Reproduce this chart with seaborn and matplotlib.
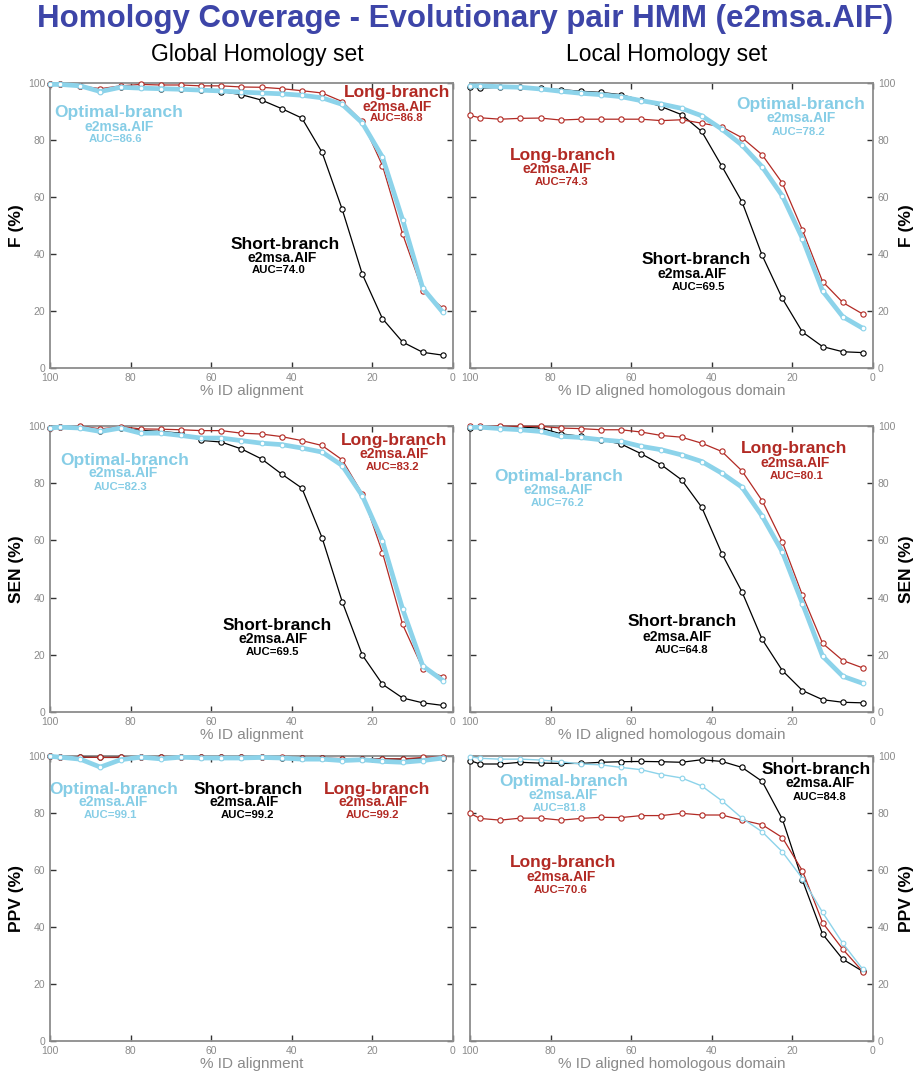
import numpy as np
import pandas as pd
import matplotlib
matplotlib.use("Agg")
import matplotlib.pyplot as plt
import seaborn as sns

# x positions (% identity bins)
pct_id = [100, 97.5, 92.5, 87.5, 82.5, 77.5, 72.5, 67.5, 62.5, 57.5, 52.5,
          47.5, 42.5, 37.5, 32.5, 27.5, 22.5, 17.5, 12.5, 7.5, 2.5]

# Global homology set - F
glob_f_short = [99.5, 99.5, 99.0, 97.2, 98.5, 98.5, 98.0, 98.0, 97.4, 97.0, 95.9,
                94.0, 91.0, 87.7, 75.7, 55.7, 32.9, 17.3, 9.1, 5.5, 4.5]
glob_f_long = [99.5, 99.5, 99.0, 98.0, 99.0, 99.5, 99.3, 99.3, 99.0, 99.0, 98.6,
               98.5, 98.0, 97.3, 96.5, 93.5, 86.5, 71.0, 47.0, 27.0, 21.0]
glob_f_opt = [99.5, 99.5, 99.0, 97.0, 98.5, 98.2, 98.0, 97.8, 97.5, 97.2, 96.8,
              96.5, 96.2, 95.7, 94.8, 92.5, 86.0, 74.0, 52.0, 28.0, 19.5]

# Local homology set - F
loc_f_short = [98.7, 98.2, 98.5, 98.7, 98.1, 97.7, 97.1, 96.7, 95.9, 94.0, 91.7,
               88.9, 83.0, 70.8, 58.3, 39.5, 24.4, 12.6, 7.5, 5.7, 5.4]
loc_f_long = [88.6, 87.8, 87.3, 87.6, 87.7, 87.0, 87.3, 87.3, 87.3, 87.3, 86.8,
              87.1, 85.9, 84.6, 80.8, 74.8, 64.9, 48.4, 30.3, 23.0, 18.9]
loc_f_opt = [99.0, 99.0, 98.7, 98.5, 97.9, 97.1, 96.4, 95.9, 95.2, 93.8, 92.6,
             91.1, 88.5, 83.8, 78.2, 70.6, 60.4, 45.4, 27.0, 18.0, 13.9]

# Global homology set - SEN
glob_sen_short = [99.3, 99.6, 99.6, 98.1, 99.3, 98.5, 98.1, 97.5, 95.0, 94.4, 92.0,
                  88.5, 83.2, 78.3, 61.0, 38.6, 19.9, 9.7, 4.9, 3.2, 2.3]
glob_sen_long = [99.3, 99.6, 100.0, 99.0, 99.8, 99.0, 98.9, 98.7, 98.4, 98.4, 97.5,
                 97.2, 96.3, 94.9, 93.2, 88.2, 76.3, 55.7, 30.6, 15.2, 12.3]
glob_sen_opt = [99.3, 99.6, 99.3, 98.1, 99.3, 97.5, 97.5, 96.7, 95.8, 95.8, 94.9,
                94.0, 93.5, 92.3, 90.9, 86.2, 75.6, 59.8, 36.0, 16.1, 11.0]

# Local homology set - SEN
loc_sen_short = [99.3, 99.6, 99.6, 99.6, 99.3, 97.3, 96.4, 95.2, 93.7, 90.3, 86.4,
                 81.2, 71.6, 55.4, 42.0, 25.4, 14.5, 7.5, 4.3, 3.4, 3.2]
loc_sen_long = [99.9, 99.9, 100.0, 99.9, 99.9, 99.3, 99.1, 98.7, 98.7, 97.9, 96.7,
                96.1, 94.0, 91.1, 84.3, 73.9, 59.5, 40.8, 24.0, 18.0, 15.4]
loc_sen_opt = [99.5, 99.6, 99.1, 98.7, 98.1, 96.4, 96.0, 95.2, 94.6, 92.9, 91.7,
               89.9, 87.6, 83.5, 78.6, 68.5, 56.0, 37.9, 19.5, 12.5, 10.0]

# Global homology set - PPV
glob_ppv_short = [99.9, 99.8, 99.6, 99.5, 99.5, 99.6, 99.5, 99.6, 99.5, 99.5, 99.5,
                  99.5, 99.4, 99.3, 99.2, 99.0, 99.0, 99.0, 98.9, 99.1, 99.4]
glob_ppv_long = [99.9, 99.8, 99.6, 99.5, 99.6, 99.7, 99.6, 99.7, 99.6, 99.6, 99.6,
                 99.5, 99.5, 99.4, 99.3, 99.1, 99.1, 99.0, 99.0, 99.5, 99.8]
glob_ppv_opt = [99.9, 99.6, 98.9, 96.1, 98.7, 99.6, 99.0, 99.6, 99.3, 99.3, 99.3,
                99.5, 99.3, 98.9, 98.9, 98.4, 98.7, 98.1, 97.8, 98.4, 99.3]

# Local homology set - PPV
loc_ppv_short = [98.4, 97.2, 97.2, 97.8, 97.5, 97.4, 97.4, 97.8, 98.0, 98.1, 98.0,
                 97.8, 98.7, 98.1, 96.0, 91.1, 77.9, 56.4, 37.5, 28.7, 24.4]
loc_ppv_long = [79.9, 78.1, 77.5, 78.2, 78.2, 77.5, 78.1, 78.5, 78.4, 79.1, 79.1,
                79.9, 79.3, 79.3, 77.5, 75.9, 71.4, 59.7, 41.5, 32.2, 24.3]
loc_ppv_opt = [99.8, 99.2, 98.9, 98.9, 98.6, 98.0, 97.2, 96.9, 96.0, 95.2, 93.5,
               92.3, 89.5, 84.3, 78.2, 73.4, 66.4, 57.0, 45.1, 34.3, 25.1]

auc_values = {
    "glob_f": {"Optimal": "86.6", "Long": "86.8", "Short": "74.0"},
    "loc_f": {"Optimal": "78.2", "Long": "74.3", "Short": "69.5"},
    "glob_sen": {"Optimal": "82.3", "Long": "83.2", "Short": "69.5"},
    "loc_sen": {"Optimal": "76.2", "Long": "80.1", "Short": "64.8"},
    "glob_ppv": {"Optimal": "99.1", "Long": "99.2", "Short": "99.2"},
    "loc_ppv": {"Optimal": "81.8", "Long": "70.6", "Short": "84.8"},
}

# label positions (axes fraction) for name / e2msa.AIF / AUC lines
label_pos = {
    "glob_f": {"Optimal": [(0.171, 0.898), (0.171, 0.846), (0.163, 0.805)],
               "Long": [(0.861, 0.968), (0.861, 0.916), (0.861, 0.877)],
               "Short": [(0.583, 0.432), (0.576, 0.386), (0.568, 0.344)]},
    "loc_f": {"Optimal": [(0.821, 0.923), (0.821, 0.877), (0.816, 0.828)],
              "Long": [(0.231, 0.747), (0.216, 0.698), (0.228, 0.653)],
              "Short": [(0.561, 0.379), (0.551, 0.330), (0.568, 0.284)]},
    "glob_sen": {"Optimal": [(0.186, 0.881), (0.181, 0.836), (0.174, 0.787)],
                 "Long": [(0.854, 0.951), (0.854, 0.902), (0.849, 0.857)],
                 "Short": [(0.563, 0.301), (0.553, 0.255), (0.553, 0.210)]},
    "loc_sen": {"Optimal": [(0.221, 0.822), (0.218, 0.776), (0.218, 0.731)],
                "Long": [(0.804, 0.923), (0.806, 0.871), (0.811, 0.825)],
                "Short": [(0.526, 0.315), (0.514, 0.262), (0.524, 0.217)]},
    "glob_ppv": {"Optimal": [(0.159, 0.884), (0.156, 0.839), (0.149, 0.793)],
                 "Short": [(0.491, 0.884), (0.481, 0.839), (0.489, 0.793)],
                 "Long": [(0.811, 0.884), (0.801, 0.839), (0.801, 0.793)]},
    "loc_ppv": {"Optimal": [(0.233, 0.909), (0.231, 0.863), (0.223, 0.818)],
                "Short": [(0.859, 0.951), (0.868, 0.905), (0.868, 0.856)],
                "Long": [(0.231, 0.625), (0.226, 0.575), (0.226, 0.530)]},
}

BLUE = "#8CD3EA"
BLUE_TXT = "#86CDE6"
RED = "#B22A24"
BLACK = "#000000"
GRAY = "#8A8A8A"

sns.set_style("white")
plt.rcParams['font.family'] = ['Liberation Sans', 'DejaVu Sans']

fig = plt.figure(figsize=(9.2, 10.71), dpi=100)

W = 403 / 920
rows = [(0.6564, 0.2661), (0.3352, 0.2670), (0.0280, 0.2661)]
cols = [50 / 920, 470 / 920]

panels = [
    ("glob_f", 0, 0, glob_f_short, glob_f_long, glob_f_opt, "F (%)", "% ID alignment"),
    ("loc_f", 0, 1, loc_f_short, loc_f_long, loc_f_opt, "F (%)", "% ID aligned homologous domain"),
    ("glob_sen", 1, 0, glob_sen_short, glob_sen_long, glob_sen_opt, "SEN (%)", "% ID alignment"),
    ("loc_sen", 1, 1, loc_sen_short, loc_sen_long, loc_sen_opt, "SEN (%)", "% ID aligned homologous domain"),
    ("glob_ppv", 2, 0, glob_ppv_short, glob_ppv_long, glob_ppv_opt, "PPV (%)", "% ID alignment"),
    ("loc_ppv", 2, 1, loc_ppv_short, loc_ppv_long, loc_ppv_opt, "PPV (%)", "% ID aligned homologous domain"),
]

for key, r, c, short, long_, opt, ylab, xlab in panels:
    ax = fig.add_axes([cols[c], rows[r][0], W, rows[r][1]])
    opt_lw = 1.0 if key == "loc_ppv" else 3.4

    sns.lineplot(x=pct_id, y=short, ax=ax, sort=False, color=BLACK, lw=0.9,
                 marker="o", markersize=3.8, markerfacecolor="white",
                 markeredgecolor=BLACK, markeredgewidth=0.8, clip_on=False, zorder=3)
    sns.lineplot(x=pct_id, y=long_, ax=ax, sort=False, color=RED, lw=0.9,
                 marker="o", markersize=3.8, markerfacecolor="white",
                 markeredgecolor=RED, markeredgewidth=0.8, clip_on=False, zorder=4)
    sns.lineplot(x=pct_id, y=opt, ax=ax, sort=False, color=BLUE, lw=opt_lw,
                 marker="o", markersize=3.4, markerfacecolor="white",
                 markeredgecolor=BLUE, markeredgewidth=0.8, clip_on=False, zorder=5)

    ax.set_xlim(100, 0)
    ax.set_ylim(0, 100)
    ax.set_xticks([100, 80, 60, 40, 20, 0])
    ax.set_yticks([0, 20, 40, 60, 80, 100])
    for s in ax.spines.values():
        s.set_color("#8C8C8C")
        s.set_linewidth(1.3)
    ax.tick_params(direction="in", length=4, width=1, color="#333333",
                   labelcolor=GRAY, labelsize=7.5, top=True, bottom=True,
                   left=True, right=True)
    ax.set_xlabel(xlab, color=GRAY, fontsize=11, labelpad=1)
    ax.set_ylabel(ylab, color=BLACK, fontsize=12.5, fontweight="bold", labelpad=3)
    if c == 1:
        ax.tick_params(labelleft=False, labelright=True)
        ax.yaxis.set_label_position("right")
        ax.yaxis.label.set_rotation(90)

    colors = {"Optimal": BLUE_TXT, "Long": RED, "Short": BLACK}
    for name in ["Optimal", "Long", "Short"]:
        p = label_pos[key][name]
        col = colors[name]
        ax.text(*p[0], name + "-branch", transform=ax.transAxes, ha="center",
                va="center", color=col, fontsize=12.5, fontweight="bold")
        ax.text(*p[1], "e2msa.AIF", transform=ax.transAxes, ha="center",
                va="center", color=col, fontsize=10, fontweight="bold")
        ax.text(*p[2], "AUC=" + auc_values[key][name], transform=ax.transAxes,
                ha="center", va="center", color=col, fontsize=8.2, fontweight="bold")

fig.text(0.505, 0.982, "Homology Coverage - Evolutionary pair HMM (e2msa.AIF)",
         ha="center", va="center", color="#3D45A8", fontsize=22.5, fontweight="bold")
fig.text(257 / 920, 1 - 55 / 1071, "Global Homology set", ha="center", va="center",
         color=BLACK, fontsize=16.5)
fig.text(667 / 920, 1 - 55 / 1071, "Local Homology set", ha="center", va="center",
         color=BLACK, fontsize=16.5)

fig.savefig("out.png", dpi=100)
